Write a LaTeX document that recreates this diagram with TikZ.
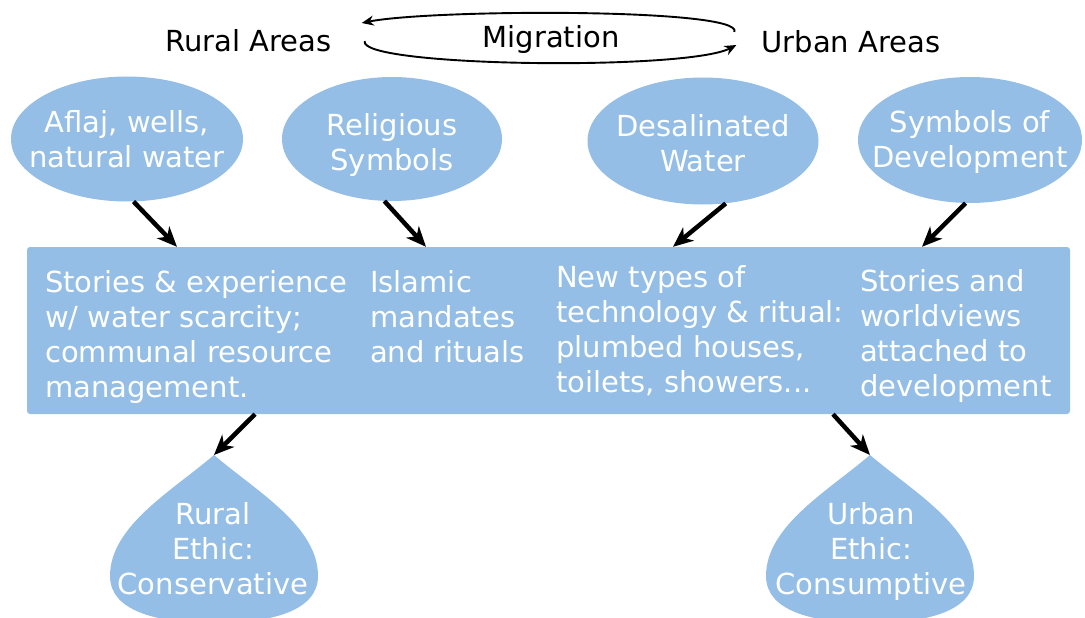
\documentclass[tikz,border=0pt]{standalone}
\usepackage{fontspec}
\setmainfont{DejaVu Sans}
\usetikzlibrary{arrows.meta,shapes.geometric,calc}
\definecolor{dropblue}{RGB}{148,190,229}
\begin{document}
\begin{tikzpicture}[x=1pt,y=-1pt,
  txt/.style={font=\fontsize{29}{35}\selectfont, inner sep=0pt},
  wtxt/.style={txt, text=white, align=left},
  ctxt/.style={txt, text=white, align=center},
  blob/.style={ellipse, fill=dropblue, inner sep=0pt},
  bigarrow/.style={line width=4.5pt, -{Stealth[length=20pt,width=17pt,inset=6pt]}},
  thinarrow/.style={line width=1.9pt, -{Stealth[length=12pt,width=10pt]}}]
\useasboundingbox (0,0) rectangle (1085,618);

% top labels
\node[txt, anchor=base] (rural) at (248.5,52) {Rural Areas};
\node[txt, anchor=base] (urban) at (851,53) {Urban Areas};
\node[txt, anchor=base] (mig) at (551,48) {Migration};

\draw[thinarrow] ([shift={(-27,-21)}]urban.base west) .. controls +(10,-24) and +(70,-14) .. ([shift={(30,-29)}]rural.base east);
\draw[thinarrow] ([shift={(33,-11)}]rural.base east) .. controls +(-8,26) and +(-50,26) .. ([shift={(-25,-8)}]urban.base west);

% ellipses
\node[blob, minimum width=232, minimum height=125] (e1) at (127,139) {};
\node[blob, minimum width=220, minimum height=124] (e2) at (392,139) {};
\node[blob, minimum width=231, minimum height=127] (e3) at (703,141) {};
\node[blob, minimum width=224, minimum height=126] (e4) at (970,140) {};
\node[ctxt, anchor=north] (l1) at (e1 |- 0,110) {Aflaj, wells,\\natural water};
\node[ctxt, anchor=north] (l2) at (e2 |- 0,113) {Religious\\Symbols};
\node[ctxt, anchor=north] (l3) at (e3 |- 0,114) {Desalinated\\Water};
\node[ctxt, anchor=north] (l4) at (e4 |- 0,110) {Symbols of\\Development};

% main box
\node[fill=dropblue, rounded corners=3pt, minimum width=1043, minimum height=167, inner sep=0pt] (box) at (548.5,330.5) {};
\node[wtxt, anchor=north west] (t1) at (45,270) {Stories \& experience\\w/ water scarcity;\\communal resource\\management.};
\node[wtxt, anchor=north west] (t2) at (370,270) {Islamic\\mandates\\and rituals};
\node[wtxt, anchor=north west] (t3) at (556,265) {New types of\\technology \& ritual:\\plumbed houses,\\toilets, showers...};
\node[wtxt, anchor=north west] (t4) at (860,269) {Stories and\\worldviews\\attached to\\development};

% drops
\coordinate (tipL) at (214,455);
\coordinate (tipR) at (870,455);
\foreach \t in {tipL,tipR}{
\fill[dropblue] (\t) .. controls +(42,36) and +(0,-50) .. ++(104,121) .. controls +(0,34) and +(60,0) .. ++(-104,47) .. controls +(-60,0) and +(0,34) .. ++(-104,-47) .. controls +(0,-50) and +(-42,36) .. (\t);
}
\node[ctxt, anchor=north] (d1) at (213,502) {Rural\\Ethic:\\Conservative};
\node[ctxt, anchor=north] (d2) at (871,502) {Urban\\Ethic:\\Consumptive};

% arrows
\draw[bigarrow] (e1.-84) -- (177,0 |- box.north);
\draw[bigarrow] (e2.-97) -- (426,0 |- box.north);
\draw[bigarrow] (e3.-70) -- (673,0 |- box.north);
\draw[bigarrow] (e4.-94) -- (922,0 |- box.north);
\draw[bigarrow] (255,0 |- box.south) -- (tipL);
\draw[bigarrow] (833,0 |- box.south) -- (tipR);
\end{tikzpicture}
\end{document}
